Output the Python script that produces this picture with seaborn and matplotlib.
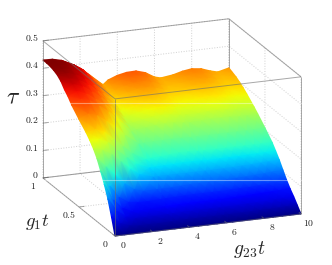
import numpy as np
import seaborn as sns
import matplotlib.pyplot as plt
from mpl_toolkits.mplot3d import proj3d

sns.set_style('white')
plt.rcParams['mathtext.fontset'] = 'cm'

g23t = [0, 0.5, 1, 1.5, 2, 2.5, 3.23, 3.5, 4, 4.5, 5, 5.5, 6, 6.34, 7, 7.5, 8, 8.5, 9, 9.4, 10]
g1t = [0, 0.05, 0.1, 0.15, 0.2, 0.25, 0.3, 0.35, 0.4, 0.5, 0.6, 0.65, 0.7, 0.75, 0.8, 0.85, 0.9, 0.95, 1]
tau = [
    [0] * 21,
    [.060, .030, .018, .014, .014, .014, .015, .016, .016, .016, .016, .016, .016, .016, .017, .017, .018, .018, .019, .020, .021],
    [.115, .065, .040, .030, .030, .030, .031, .032, .033, .033, .033, .033, .033, .033, .034, .035, .036, .037, .038, .040, .042],
    [.158, .095, .060, .045, .044, .045, .047, .048, .049, .050, .050, .050, .050, .050, .051, .052, .053, .055, .056, .058, .060],
    [.195, .135, .090, .068, .062, .062, .064, .065, .066, .067, .068, .068, .068, .068, .069, .070, .070, .072, .075, .078, .082],
    [.230, .195, .160, .125, .100, .090, .090, .090, .090, .092, .094, .095, .095, .095, .096, .097, .098, .100, .102, .104, .107],
    [.255, .245, .225, .195, .165, .140, .125, .125, .125, .125, .125, .125, .125, .125, .125, .126, .127, .128, .130, .131, .133],
    [.275, .275, .258, .225, .195, .168, .147, .148, .149, .150, .152, .152, .151, .150, .150, .151, .151, .152, .153, .154, .155],
    [.292, .300, .285, .255, .225, .195, .168, .170, .172, .175, .178, .178, .176, .175, .175, .175, .175, .175, .175, .175, .176],
    [.320, .335, .325, .300, .275, .240, .203, .204, .205, .206, .206, .206, .205, .205, .205, .205, .205, .205, .205, .205, .208],
    [.350, .368, .358, .335, .310, .275, .228, .231, .235, .240, .242, .241, .237, .235, .236, .238, .239, .238, .236, .235, .238],
    [.370, .385, .372, .348, .325, .290, .243, .247, .253, .260, .262, .260, .254, .252, .252, .255, .256, .254, .251, .249, .252],
    [.385, .400, .388, .365, .340, .305, .258, .262, .270, .277, .280, .278, .272, .268, .268, .272, .273, .271, .267, .263, .265],
    [.405, .410, .400, .380, .352, .317, .272, .276, .284, .292, .294, .291, .284, .280, .280, .285, .287, .284, .280, .276, .278],
    [.417, .420, .410, .392, .365, .330, .285, .291, .299, .306, .308, .303, .293, .289, .292, .297, .300, .297, .291, .287, .290],
    [.424, .425, .418, .400, .375, .340, .296, .302, .311, .319, .321, .315, .303, .298, .301, .307, .310, .307, .300, .295, .300],
    [.428, .428, .422, .407, .383, .347, .304, .313, .324, .331, .332, .325, .311, .305, .309, .315, .319, .316, .307, .302, .309],
    [.430, .430, .425, .410, .387, .352, .310, .322, .334, .341, .342, .333, .316, .310, .315, .322, .327, .323, .313, .307, .315],
    [.430, .429, .421, .404, .384, .356, .314, .329, .342, .349, .350, .340, .320, .314, .320, .329, .334, .330, .318, .311, .321],
]
x_ticks = [0, 2, 4, 6, 8, 10]
y_ticks = [0, 0.5, 1]
z_ticks = [0, 0.1, 0.2, 0.3, 0.4, 0.5]
x_labels = ['0', '2', '4', '6', '8', '10']
y_labels = ['0', '0.5', '1']
z_labels = ['0', '0.1', '0.2', '0.3', '0.4', '0.5']

W, H = 332, 265
fig = plt.figure(figsize=(W / 100, H / 100), dpi=100)
ax = fig.add_axes([0, 0, 1, 1], projection='3d', proj_type='ortho')
ax.view_init(elev=18, azim=-111)
ax.set_xlim(0, 10)
ax.set_ylim(0, 1)
ax.set_zlim(0, 0.5)
box = (199, 201, 144)
ax.set_box_aspect(box)
ax.set_xticks(x_ticks)
ax.set_yticks(y_ticks)
ax.set_zticks(z_ticks)
ax.set_xticklabels([])
ax.set_yticklabels([])
ax.set_zticklabels([])
ax.grid(True)
for axis in (ax.xaxis, ax.yaxis, ax.zaxis):
    axis.pane.set_visible(False)
    axis.line.set_color((0, 0, 0, 0))
    axis._axinfo['tick']['inward_factor'] = 0
    axis._axinfo['tick']['outward_factor'] = 0
    axis._axinfo['grid'].update(color='#cfcfcf', linestyle=':', linewidth=0.7)


def project(x, y, z):
    # 3d data -> picture pixels, y going down
    shape = np.shape(x)
    px, py, _ = proj3d.proj_transform(np.ravel(x).astype(float), np.ravel(y).astype(float), np.ravel(z).astype(float), ax.get_proj())
    pts = ax.transData.transform(np.column_stack([px, py]))
    return pts[:, 0].reshape(shape), H - pts[:, 1].reshape(shape)


# fit the box to the frame of the picture
fig.canvas.draw()
a, _ = project([0, 10], [0, 0], [0, 0])
ax.set_box_aspect(box, zoom=186 / (a[1] - a[0]))
fig.canvas.draw()
a, b = project([0], [0], [0])
ax.set_position([(115 - a[0]) / W, (b[0] - 236) / H, 1, 1])
fig.canvas.draw()

over = fig.add_axes([0, 0, 1, 1])
over.set_xlim(0, W)
over.set_ylim(H, 0)
over.axis('off')

edge = dict(color='#6e6e6e', alpha=0.6, lw=0.7, solid_capstyle='butt')


def box_line(p, q, zorder):
    lx, ly = project([p[0], q[0]], [p[1], q[1]], [p[2], q[2]])
    over.plot(lx, ly, zorder=zorder, **edge)


# hidden box edges, under the surface
for q in [(10, 1, 0.5), (0, 1, 0), (10, 0, 0)]:
    box_line((10, 1, 0), q, 1)

# surface, back rows first
G23, G1 = np.meshgrid(g23t, g1t)
T = np.array(tau)
sx, sy = project(G23, G1, T)
over.pcolormesh(sx[::-1], sy[::-1], T[::-1], shading='gouraud', cmap='jet', vmin=0, vmax=0.43, zorder=2)

# front box edges
for p, q in [((0, 0, 0), (0, 0, 0.5)), ((0, 0, 0.5), (10, 0, 0.5)), ((0, 0, 0.5), (0, 1, 0.5)),
             ((10, 0, 0), (10, 0, 0.5)), ((10, 0, 0.5), (10, 1, 0.5)), ((0, 1, 0.5), (10, 1, 0.5)),
             ((0, 1, 0), (0, 1, 0.5)), ((0, 0, 0), (0, 1, 0)), ((0, 0, 0), (10, 0, 0))]:
    box_line(p, q, 3)

# seams that run across the picture
for y in [103, 180]:
    over.axhline(y, color='white', alpha=0.4, lw=0.8, zorder=4)

# ticks and their labels
txt = dict(fontsize=7, color='#222222', va='center', annotation_clip=False)
for t, s in zip(x_ticks, x_labels):
    p, q = project([t, t], [0, 0.03], [0, 0])
    over.plot(p, q, zorder=3, **edge)
    over.annotate('$%s$' % s, (p[0], q[0]), xytext=(8, -9), textcoords='offset pixels', ha='center', **txt)
for t, s in zip(y_ticks, y_labels):
    p, q = project([0, 0.3], [t, t], [0, 0])
    over.plot(p, q, zorder=3, **edge)
    over.annotate('$%s$' % s, (p[0], q[0]), xytext=(-10, -8), textcoords='offset pixels', ha='center', **txt)
for t, s in zip(z_ticks, z_labels):
    p, q = project([0, 0.3], [1, 1], [t, t])
    over.plot(p, q, zorder=3, **edge)
    over.annotate('$%s$' % s, (p[0], q[0]), xytext=(-4, 3), textcoords='offset pixels', ha='right', **txt)

over.text(13, 97, r'$\tau$', fontsize=17, ha='center', va='center')
over.text(37, 222, r'$g_1t$', fontsize=13.5, ha='center', va='center')
over.text(249, 249, r'$g_{23}t$', fontsize=14, ha='center', va='center')

plt.savefig('out.png', dpi=100)
